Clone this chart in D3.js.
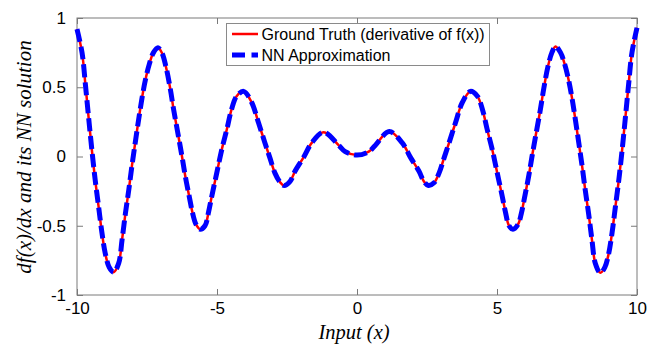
<!DOCTYPE html>
<html>
<head>
<meta charset="utf-8">
<script src="https://cdn.jsdelivr.net/npm/d3@7"></script>
<style>
  html, body { margin: 0; padding: 0; background: #ffffff; }
  svg { display: block; }
</style>
</head>
<body>
<svg id="chart" width="660" height="345"></svg>
<script>
// ---- data ----
const xValues = [
  -10, -9.82, -9.70, -9.58, -9.46, -9.35, -9.23, -9.11, -8.99, -8.85, -8.69, -8.51, -8.39, -8.27, -8.15, -8.04,
  -7.92, -7.80, -7.68, -7.56, -7.42, -7.27, -7.11, -6.96, -6.82, -6.67, -6.55, -6.39, -6.25, -6.13, -5.99, -5.87,
  -5.75, -5.60, -5.43, -5.30, -5.19, -5.01, -4.83, -4.65, -4.48, -4.30, -4.05, -3.76, -3.52, -3.29, -3.11, -2.93,
  -2.75, -2.60, -2.39, -2.21, -1.92, -1.61, -1.19, -0.65, -0.42, 0,
  0.42, 0.65, 1.15, 1.61, 1.92, 2.21, 2.39, 2.55, 2.75, 2.93, 3.11, 3.29, 3.52, 3.76, 4.05, 4.30, 4.48, 4.65,
  4.83, 5.01, 5.19, 5.30, 5.43, 5.57, 5.75, 5.87, 5.99, 6.13, 6.25, 6.39, 6.55, 6.67, 6.82, 6.96, 7.09, 7.27,
  7.42, 7.56, 7.68, 7.80, 7.92, 8.04, 8.15, 8.27, 8.39, 8.51, 8.69, 8.85, 8.99, 9.11, 9.23, 9.35, 9.46, 9.58,
  9.70, 9.82, 10
];
const groundTruth = [
  0.92, 0.75, 0.52, 0.27, 0.03, -0.17, -0.36, -0.55, -0.70, -0.80, -0.835, -0.77, -0.60, -0.41, -0.24, -0.07,
  0.10, 0.265, 0.42, 0.55, 0.665, 0.75, 0.785, 0.745, 0.645, 0.49, 0.34, 0.16, 0.0, -0.145, -0.29, -0.41,
  -0.49, -0.525, -0.50, -0.40, -0.29, -0.12, 0.05, 0.195, 0.34, 0.435, 0.47, 0.39, 0.245, 0.10, -0.01, -0.12,
  -0.185, -0.21, -0.18, -0.105, -0.01, 0.10, 0.175, 0.08, 0.035, 0.01,
  0.035, 0.08, 0.18, 0.10, -0.01, -0.105, -0.18, -0.21, -0.19, -0.12, -0.01, 0.10, 0.245, 0.39, 0.47, 0.435, 0.34, 0.195,
  0.05, -0.12, -0.29, -0.40, -0.50, -0.525, -0.49, -0.41, -0.29, -0.145, 0.0, 0.16, 0.34, 0.49, 0.65, 0.75, 0.795, 0.75,
  0.665, 0.55, 0.42, 0.265, 0.10, -0.07, -0.24, -0.41, -0.60, -0.77, -0.84, -0.80, -0.70, -0.55, -0.36, -0.17, 0.03, 0.27,
  0.52, 0.75, 0.93
];
const nnApprox = groundTruth.slice(); // the NN curve lies on top of the ground truth
const xTicks = [-10, -5, 0, 5, 10];
const yTicks = [-1, -0.5, 0, 0.5, 1];
const seriesNames = ["Ground Truth (derivative of f(x))", "NN Approximation"];
const xLabel = "Input (x)";
const yLabel = "df(x)/dx and its NN solution";

// ---- layout ----
const svg = d3.select("#chart");
const plot = { left: 77, right: 637, top: 18, bottom: 295 };
const x = d3.scaleLinear().domain([-10, 10]).range([plot.left, plot.right]);
const y = d3.scaleLinear().domain([-1, 1]).range([plot.bottom, plot.top]);
const axisColor = "#7a7a7a";
const tickFont = "17px 'Liberation Sans', Arial, sans-serif";

svg.append("rect").attr("width", 660).attr("height", 345).attr("fill", "#fff");

// box
svg.append("rect")
  .attr("x", plot.left).attr("y", plot.top)
  .attr("width", plot.right - plot.left).attr("height", plot.bottom - plot.top)
  .attr("fill", "none").attr("stroke", axisColor).attr("stroke-width", 1);

// axes with inward ticks
function styleAxis(g) {
  g.select(".domain").remove();
  g.selectAll(".tick line").attr("stroke", axisColor);
  g.selectAll(".tick text").attr("fill", "#000").style("font", tickFont);
}
const fmt = d => (d < 0 ? "-" : "") + Math.abs(d);
svg.append("g").attr("transform", `translate(0,${plot.bottom})`)
  .call(d3.axisBottom(x).tickValues(xTicks).tickSizeInner(-6).tickSizeOuter(0).tickPadding(7).tickFormat(fmt))
  .call(styleAxis);
svg.append("g").attr("transform", `translate(0,${plot.top})`)
  .call(d3.axisTop(x).tickValues(xTicks).tickSizeInner(-6).tickSizeOuter(0).tickFormat(""))
  .call(styleAxis);
svg.append("g").attr("transform", `translate(${plot.left},0)`)
  .call(d3.axisLeft(y).tickValues(yTicks).tickSizeInner(-6).tickSizeOuter(0).tickPadding(11).tickFormat(fmt))
  .call(styleAxis);
svg.append("g").attr("transform", `translate(${plot.right},0)`)
  .call(d3.axisRight(y).tickValues(yTicks).tickSizeInner(-6).tickSizeOuter(0).tickFormat(""))
  .call(styleAxis);

// curves
const line = d3.line()
  .x((d, i) => x(xValues[i]))
  .y(d => y(d))
  .curve(d3.curveCatmullRom.alpha(0.5));

svg.append("path").datum(groundTruth)
  .attr("d", line).attr("fill", "none")
  .attr("stroke", "#ff0000").attr("stroke-width", 2.5);
svg.append("path").datum(nnApprox)
  .attr("d", line).attr("fill", "none")
  .attr("stroke", "#0000ff").attr("stroke-width", 5)
  .attr("stroke-dasharray", "13,5");

// labels
svg.append("text")
  .attr("x", 354).attr("y", 339)
  .attr("text-anchor", "middle")
  .style("font", "italic 20.5px 'Liberation Serif', 'Times New Roman', serif")
  .text(xLabel);
svg.append("text")
  .attr("transform", "translate(31,157) rotate(-90)")
  .attr("text-anchor", "middle")
  .style("font", "italic 21px 'Liberation Serif', 'Times New Roman', serif")
  .text(yLabel);

// legend
const lg = svg.append("g");
lg.append("rect")
  .attr("x", 226.5).attr("y", 23.5).attr("width", 263).attr("height", 42)
  .attr("fill", "#fff").attr("stroke", "#8a8a8a").attr("stroke-width", 1);
const rows = [
  { name: seriesNames[0], color: "#ff0000", width: 2.5, dash: null, cy: 34 },
  { name: seriesNames[1], color: "#0000ff", width: 5, dash: "13,6.5", cy: 55 }
];
rows.forEach(r => {
  lg.append("line")
    .attr("x1", 232).attr("x2", 258).attr("y1", r.cy).attr("y2", r.cy)
    .attr("stroke", r.color).attr("stroke-width", r.width)
    .attr("stroke-dasharray", r.dash);
  lg.append("text")
    .attr("x", 261.5).attr("y", r.cy + 6)
    .style("font", "16px 'Liberation Sans', Arial, sans-serif")
    .attr("fill", "#000")
    .text(r.name);
});
</script>
</body>
</html>
